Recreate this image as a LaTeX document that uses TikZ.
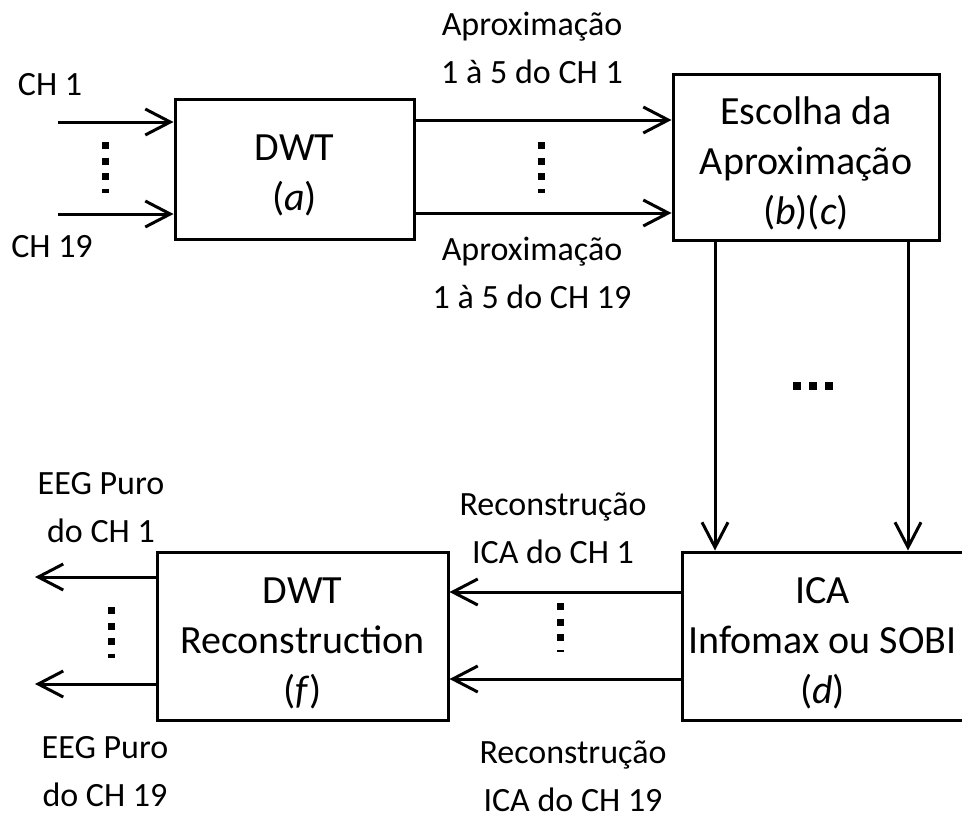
\documentclass[tikz,border=0pt]{standalone}
\usepackage{fontspec}
\setmainfont{Carlito}
\usetikzlibrary{arrows.meta}

\tikzset{
  blk/.style={draw, line width=1.5pt, rectangle, align=center, inner sep=0pt,
    font=\fontsize{20}{25}\selectfont, text depth=0pt},
  lbl/.style={align=center, anchor=base, inner sep=0pt},
  flow/.style={line width=1.5pt, -{Straight Barb[length=12.5pt,width=13pt,line width=1.5pt]}},
  vdots/.style={line width=3.5pt, dash pattern=on 3.5pt off 4.25pt},
  hdots/.style={line width=4pt, dash pattern=on 4pt off 4pt},
}

\begin{document}
\begin{tikzpicture}[x=0.5pt, y=-0.5pt, font=\fontsize{17}{24}\selectfont]
\useasboundingbox (0,0) rectangle (962,819);
\clip (0,0) rectangle (962,819);

% blocks
\node[blk, minimum width=119.5pt, minimum height=70pt, text height=41pt] (dwt) at (294.5,169) {DWT\\(\textit{a})};
\node[blk, minimum width=133pt, minimum height=83pt, text height=67pt] (esc) at (806,157) {Escolha da\\Aproximação\\(\textit{b})(\textit{c})};
\node[blk, minimum width=140.5pt, minimum height=84pt, text height=67pt] (ica) at (822.5,636) {ICA\\Infomax ou SOBI\\(\textit{d})};
\node[blk, minimum width=145.5pt, minimum height=84pt, text height=67pt] (rec) at (302.5,636) {DWT\\Reconstruction\\(\textit{f})};

% free ends
\coordinate (in1) at (58,122);
\coordinate (in19) at (58,214);
\coordinate (out1) at (35,577);
\coordinate (out19) at (35,684);

% labels
\node[lbl] (lch1) at (50,95) {CH 1};
\node[lbl] (lch19) at (52,257) {CH 19};
\node[lbl] (lap1) at (532,83) {Aproximação\\1 à 5 do CH 1};
\node[lbl] (lap19) at (532,308) {Aproximação\\1 à 5 do CH 19};
\node[lbl] (leeg1) at (101,542) {EEG Puro\\do CH 1};
\node[lbl] (leeg19) at (105,806) {EEG Puro\\do CH 19};
\node[lbl] (lrec1) at (553,563) {Reconstrução\\ICA do CH 1};
\node[lbl] (lrec19) at (573,811) {Reconstrução\\ICA do CH 19};

% connectors
\draw[flow] (in1) -- (in1 -| dwt.west);
\draw[flow] (in19) -- (in19 -| dwt.west);
\draw[flow] (dwt.east |- 0,120) -- (esc.west |- 0,120);
\draw[flow] (dwt.east |- 0,213) -- (esc.west |- 0,213);
\draw[flow] (esc.south -| 715,0) -- (ica.north -| 715,0);
\draw[flow] (esc.south -| 908,0) -- (ica.north -| 908,0);
\draw[flow] (ica.west |- 0,592) -- (rec.east |- 0,592);
\draw[flow] (ica.west |- 0,679) -- (rec.east |- 0,679);
\draw[flow] (rec.west |- out1) -- (out1);
\draw[flow] (rec.west |- out19) -- (out19);

% dots
\draw[vdots] (105,142) -- (105,193);
\draw[vdots] (541,142) -- (541,193);
\draw[vdots] (560,603) -- (560,652);
\draw[vdots] (111,607) -- (111,658);
\draw[hdots] (793,386) -- (833,386);
\end{tikzpicture}
\end{document}
